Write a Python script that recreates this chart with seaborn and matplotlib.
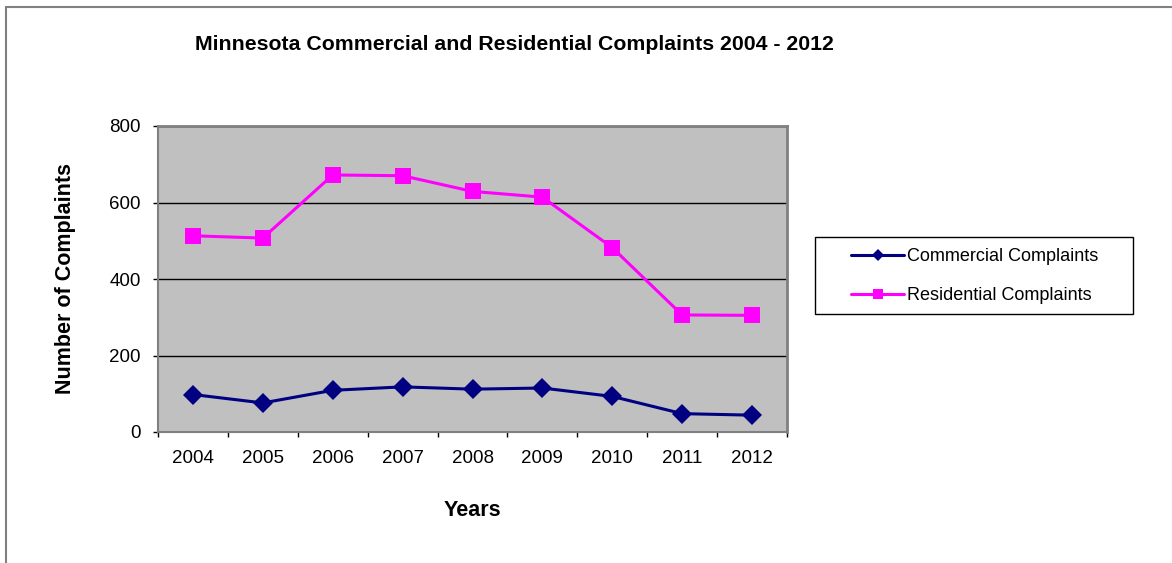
import seaborn as sns
import matplotlib.pyplot as plt
import pandas as pd
from matplotlib.patches import Rectangle
from matplotlib.lines import Line2D

years = ['2004', '2005', '2006', '2007', '2008', '2009', '2010', '2011', '2012']
commercial = [98, 76, 109, 118, 112, 115, 93, 48, 44]
residential = [513, 507, 672, 670, 629, 614, 482, 306, 305]
series_names = ['Commercial Complaints', 'Residential Complaints']
y_ticks = [0, 200, 400, 600, 800]

df = pd.DataFrame({
    'Year': years * 2,
    'Complaints': commercial + residential,
    'Series': [series_names[0]] * len(years) + [series_names[1]] * len(years),
})

sns.set_style('white')
plt.rcParams['font.family'] = ['Liberation Sans', 'DejaVu Sans']
plt.rcParams['text.color'] = 'black'
plt.rcParams['xtick.color'] = 'black'
plt.rcParams['ytick.color'] = 'black'
plt.rcParams['axes.labelcolor'] = 'black'

fig = plt.figure(figsize=(11.72, 5.63), dpi=100)
W, H = 1172, 563
ax = fig.add_axes([158 / W, 1 - 432 / H, (787 - 158) / W, (432 - 126) / H])
ax.set_facecolor('#C0C0C0')

sns.lineplot(data=df, x='Year', y='Complaints', hue='Series', style='Series',
             palette={series_names[0]: '#000080', series_names[1]: '#FF00FF'},
             markers={series_names[0]: 'D', series_names[1]: 's'},
             dashes=False, markersize=10, linewidth=2.2, markeredgewidth=0,
             sort=False, ax=ax)
# bigger squares for the residential series
ax.lines[1].set_markersize(11.5)

ax.set_xlim(-0.5, len(years) - 0.5)
ax.set_ylim(0, 800)
ax.set_yticks(y_ticks)
ax.yaxis.grid(True, color='black', linewidth=1)
ax.set_axisbelow(True)

# Excel-style ticks between categories
ax.set_xticks(range(len(years)))
ax.set_xticklabels(years)
ax.set_xticks([i - 0.5 for i in range(len(years) + 1)], minor=True)
ax.tick_params(axis='x', which='major', bottom=True, length=0, pad=13, labelsize=13.5)
ax.tick_params(axis='x', which='minor', bottom=True, length=3.6, width=1, color='black', direction='out')
ax.tick_params(axis='y', left=True, length=3.6, width=1, color='black', direction='out',
               labelsize=13.5, pad=9)

for side in ['top', 'right']:
    ax.spines[side].set_color('#808080')
    ax.spines[side].set_linewidth(2)
for side in ['left', 'bottom']:
    ax.spines[side].set_color('#808080')
    ax.spines[side].set_linewidth(1.5)

ax.set_xlabel('Years', fontsize=15.5, fontweight='bold', labelpad=24)
ax.set_ylabel('Number of Complaints', fontsize=15.5, fontweight='bold', labelpad=24)
fig.text(514 / W, 1 - 45 / H, 'Minnesota Commercial and Residential Complaints 2004 - 2012',
         ha='center', va='center', fontsize=15.3, fontweight='bold')

leg = ax.legend(loc='center', bbox_to_anchor=(975 / W, 1 - 276 / H),
                bbox_transform=fig.transFigure, frameon=False, fontsize=13,
                handlelength=2.9, handletextpad=0.2, markerscale=0.65,
                labelspacing=1.2)

# legend box
fig.patches.append(Rectangle((815 / W, 1 - 314 / H), (1133 - 815) / W, (314 - 237) / H,
                             transform=fig.transFigure, fill=False,
                             edgecolor='black', linewidth=1))

# outer chart border (top and left only)
fig.lines.append(Line2D([5.5 / W, 5.5 / W], [0, 1 - 6.5 / H], transform=fig.transFigure,
                        color='#808080', linewidth=1.5))
fig.lines.append(Line2D([5.5 / W, 1], [1 - 6.5 / H, 1 - 6.5 / H], transform=fig.transFigure,
                        color='#808080', linewidth=1.5))

fig.savefig('out.png', dpi=100, facecolor='white')
